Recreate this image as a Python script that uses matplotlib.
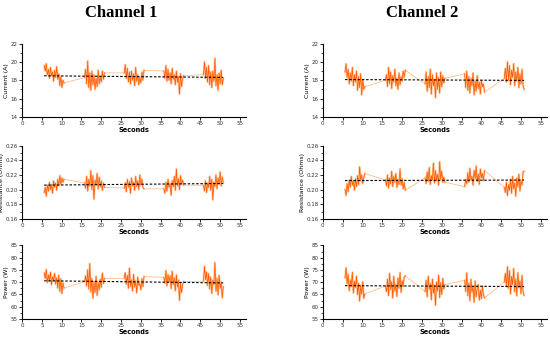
import numpy as np
import matplotlib
matplotlib.use('Agg')
import matplotlib.pyplot as plt
from matplotlib.ticker import MultipleLocator

# burst start times (s), each burst lasts about 5 s
burst_starts = [5.6, 15.8, 25.8, 35.8, 45.8]
burst_len = 5.0

# ---------------------------------------------------------------------------
# Channel 1
# ---------------------------------------------------------------------------
ch1_current = [
    [19.6, 19.0, 19.8, 18.6, 19.2, 18.2, 19.4, 18.5, 18.9, 17.9, 19.1, 18.3, 19.5, 18.1, 18.7, 17.4, 18.4, 17.2, 18.0, 17.7],
    [18.3, 19.2, 17.6, 20.1, 17.2, 18.8, 16.9, 19.0, 17.5, 18.6, 17.0, 18.2, 17.3, 19.1, 17.6, 18.4, 17.8, 19.0, 18.1, 18.8],
    [18.8, 19.7, 18.2, 19.3, 17.8, 18.9, 17.6, 19.0, 18.0, 18.7, 17.4, 19.4, 17.9, 18.6, 17.5, 18.3, 17.7, 18.9, 18.0, 19.1],
    [19.0, 18.2, 19.6, 17.9, 19.2, 18.0, 18.8, 17.6, 19.3, 18.1, 18.6, 17.5, 19.0, 17.8, 18.4, 16.5, 18.7, 17.3, 18.2, 18.5],
    [18.6, 20.0, 18.2, 19.4, 17.8, 19.6, 17.5, 18.9, 17.2, 19.0, 17.9, 20.4, 17.4, 18.6, 16.9, 18.8, 17.6, 19.1, 17.5, 18.2],
]
ch1_resistance = [
    [0.196, 0.203, 0.191, 0.206, 0.198, 0.210, 0.200, 0.207, 0.195, 0.212, 0.203, 0.209, 0.199, 0.214, 0.205, 0.219, 0.207, 0.216, 0.210, 0.214],
    [0.209, 0.202, 0.218, 0.198, 0.214, 0.205, 0.226, 0.200, 0.219, 0.187, 0.213, 0.206, 0.222, 0.201, 0.217, 0.204, 0.212, 0.199, 0.209, 0.203],
    [0.202, 0.209, 0.197, 0.214, 0.203, 0.211, 0.195, 0.216, 0.205, 0.210, 0.199, 0.218, 0.204, 0.212, 0.200, 0.220, 0.206, 0.214, 0.203, 0.201],
    [0.201, 0.195, 0.210, 0.198, 0.214, 0.203, 0.208, 0.192, 0.212, 0.204, 0.218, 0.199, 0.228, 0.205, 0.215, 0.200, 0.219, 0.207, 0.213, 0.206],
    [0.206, 0.198, 0.212, 0.196, 0.209, 0.203, 0.218, 0.199, 0.214, 0.186, 0.210, 0.204, 0.220, 0.201, 0.216, 0.207, 0.224, 0.205, 0.217, 0.210],
]
ch1_power = [
    [73.8, 71.5, 75.2, 69.8, 73.0, 70.4, 74.1, 68.9, 72.2, 70.8, 73.6, 69.2, 71.8, 67.6, 72.9, 66.2, 71.4, 65.3, 69.7, 67.6],
    [70.2, 72.6, 68.4, 75.1, 67.2, 77.6, 66.0, 71.5, 63.4, 70.2, 65.8, 72.4, 64.6, 69.9, 66.8, 71.2, 67.9, 73.8, 69.4, 71.5],
    [71.6, 73.9, 69.2, 72.8, 67.5, 75.8, 68.3, 71.0, 66.4, 73.2, 67.9, 70.6, 65.6, 72.1, 68.8, 69.4, 66.9, 71.5, 68.2, 72.3],
    [72.0, 69.6, 74.8, 68.5, 73.2, 70.1, 72.6, 67.4, 74.5, 69.0, 71.8, 66.5, 73.0, 68.1, 70.9, 62.6, 69.7, 65.8, 68.9, 70.3],
    [70.4, 76.5, 71.0, 74.2, 68.6, 73.5, 67.2, 72.1, 65.4, 70.8, 69.1, 78.0, 66.3, 71.6, 64.8, 72.8, 67.5, 70.2, 63.6, 68.2],
]

# ---------------------------------------------------------------------------
# Channel 2
# ---------------------------------------------------------------------------
ch2_current = [
    [18.9, 19.8, 18.3, 19.2, 17.6, 18.8, 17.9, 19.4, 17.4, 18.6, 17.8, 19.0, 16.9, 18.4, 17.2, 18.7, 16.4, 18.1, 17.0, 17.3],
    [18.0, 18.6, 17.3, 19.4, 17.6, 18.9, 17.1, 18.5, 17.8, 19.2, 17.4, 18.2, 17.0, 18.8, 17.5, 18.4, 17.9, 19.0, 18.3, 19.1],
    [17.6, 18.9, 16.8, 18.4, 17.2, 19.2, 16.5, 18.6, 17.4, 18.1, 16.1, 18.8, 17.0, 18.3, 16.6, 18.9, 17.3, 18.5, 17.7, 18.2],
    [18.7, 17.2, 19.0, 16.9, 18.4, 16.6, 18.2, 17.4, 18.8, 16.4, 17.9, 16.8, 18.5, 17.1, 17.8, 16.5, 18.0, 17.3, 17.6, 16.7],
    [18.2, 19.3, 17.8, 20.0, 18.0, 19.6, 17.5, 19.1, 18.3, 19.8, 17.4, 18.9, 17.9, 19.4, 17.2, 18.7, 17.6, 19.2, 17.4, 17.0],
]
ch2_resistance = [
    [0.200, 0.192, 0.208, 0.197, 0.213, 0.203, 0.218, 0.206, 0.212, 0.199, 0.215, 0.204, 0.219, 0.207, 0.231, 0.212, 0.220, 0.208, 0.216, 0.222],
    [0.213, 0.205, 0.220, 0.202, 0.216, 0.208, 0.225, 0.204, 0.218, 0.210, 0.222, 0.203, 0.214, 0.207, 0.228, 0.206, 0.215, 0.201, 0.210, 0.199],
    [0.216, 0.208, 0.224, 0.211, 0.230, 0.207, 0.219, 0.213, 0.236, 0.209, 0.226, 0.212, 0.221, 0.206, 0.238, 0.214, 0.225, 0.210, 0.217, 0.210],
    [0.204, 0.214, 0.208, 0.223, 0.210, 0.229, 0.213, 0.218, 0.206, 0.226, 0.215, 0.232, 0.211, 0.221, 0.207, 0.228, 0.216, 0.222, 0.212, 0.226],
    [0.203, 0.196, 0.210, 0.192, 0.207, 0.199, 0.214, 0.195, 0.218, 0.201, 0.209, 0.191, 0.216, 0.204, 0.221, 0.198, 0.212, 0.206, 0.224, 0.225],
]
ch2_power = [
    [71.8, 75.9, 69.4, 73.2, 66.5, 71.0, 68.2, 74.1, 65.6, 70.3, 67.8, 72.5, 64.9, 69.6, 62.3, 68.8, 65.1, 70.2, 63.4, 65.2],
    [68.4, 66.1, 71.3, 64.5, 73.6, 67.0, 70.2, 63.5, 72.4, 66.3, 69.1, 64.2, 71.7, 67.5, 74.0, 65.8, 70.6, 68.3, 72.1, 72.6],
    [66.2, 70.8, 64.0, 72.5, 67.1, 69.4, 62.8, 71.3, 65.5, 68.7, 60.6, 70.1, 66.4, 72.9, 63.7, 69.8, 65.0, 71.6, 67.2, 69.0],
    [70.8, 66.2, 73.8, 64.5, 69.6, 62.4, 71.2, 65.9, 68.3, 61.8, 70.5, 64.0, 67.4, 69.1, 62.7, 66.8, 63.2, 68.5, 64.8, 63.6],
    [70.1, 73.6, 68.2, 76.3, 67.5, 74.8, 65.2, 72.4, 69.0, 75.6, 66.1, 71.3, 64.4, 73.9, 67.8, 70.5, 65.3, 72.8, 66.0, 64.6],
]

# (label, ylim, major step, tick format)
rows = [
    ('Current (A)', (14, 22), 2, '{:.0f}'),
    ('Resistance (Ohms)', (0.16, 0.26), 0.02, '{:.2f}'),
    ('Power (W)', (55, 85), 5, '{:.0f}'),
]
channels = [
    ('Channel 1', [ch1_current, ch1_resistance, ch1_power]),
    ('Channel 2', [ch2_current, ch2_resistance, ch2_power]),
]

col_left = [0.040, 0.587]
col_width = 0.407
row_bottom = [0.656, 0.356, 0.062]
row_height = 0.216

line_light = '#FFB37A'
line_dark = '#FF5A00'
tick_col = '#333333'

fig = plt.figure(figsize=(5.5, 3.4), dpi=100)

for ci, (title, series) in enumerate(channels):
    fig.text(col_left[ci] + 0.181, 0.962, title, ha='center', va='center',
             family='Liberation Serif', fontweight='bold', fontsize=12)
    for ri, (ylabel, ylim, step, fmt) in enumerate(rows):
        ax = fig.add_axes([col_left[ci], row_bottom[ri], col_width, row_height])
        bursts = series[ri]
        t_all, y_all = [], []
        for start, vals in zip(burst_starts, bursts):
            t = np.linspace(start, start + burst_len, len(vals))
            t_all.append(t)
            y_all.append(np.array(vals))
            ax.plot(t, vals, color=line_light, lw=1.6, alpha=0.55, zorder=2)
            ax.plot(t, vals, color=line_dark, lw=0.5, zorder=3)
        t_all = np.concatenate(t_all)
        y_all = np.concatenate(y_all)
        # thin joining line between bursts
        ax.plot(t_all, y_all, color=line_light, lw=0.5, zorder=1)

        # linear fit
        k, b = np.polyfit(t_all, y_all, 1)
        xf = np.array([t_all[0], t_all[-1]])
        ax.plot(xf, k * xf + b, color='black', lw=0.8, ls=(0, (2.2, 1.6)), zorder=4)

        ax.set_xlim(0, 56.5)
        ax.set_ylim(*ylim)
        ax.xaxis.set_major_locator(MultipleLocator(5))
        yt = np.arange(ylim[0], ylim[1] + step / 2, step)
        ax.set_yticks(yt)
        ax.set_yticklabels([fmt.format(v) for v in yt])
        ax.yaxis.set_minor_locator(MultipleLocator(step / 2))
        for s in ('top', 'right'):
            ax.spines[s].set_visible(False)
        for s in ('left', 'bottom'):
            ax.spines[s].set_linewidth(0.8)
        ax.tick_params(which='major', direction='out', length=2.2, width=0.6,
                       labelsize=4, labelcolor=tick_col, pad=0.8)
        ax.tick_params(which='minor', direction='out', length=1.3, width=0.5)
        ax.set_xlabel('Seconds', fontsize=4.8, fontweight='bold', labelpad=0.5)
        ax.set_ylabel(ylabel, fontsize=4.5, labelpad=1)

fig.savefig('out.png', dpi=100)
